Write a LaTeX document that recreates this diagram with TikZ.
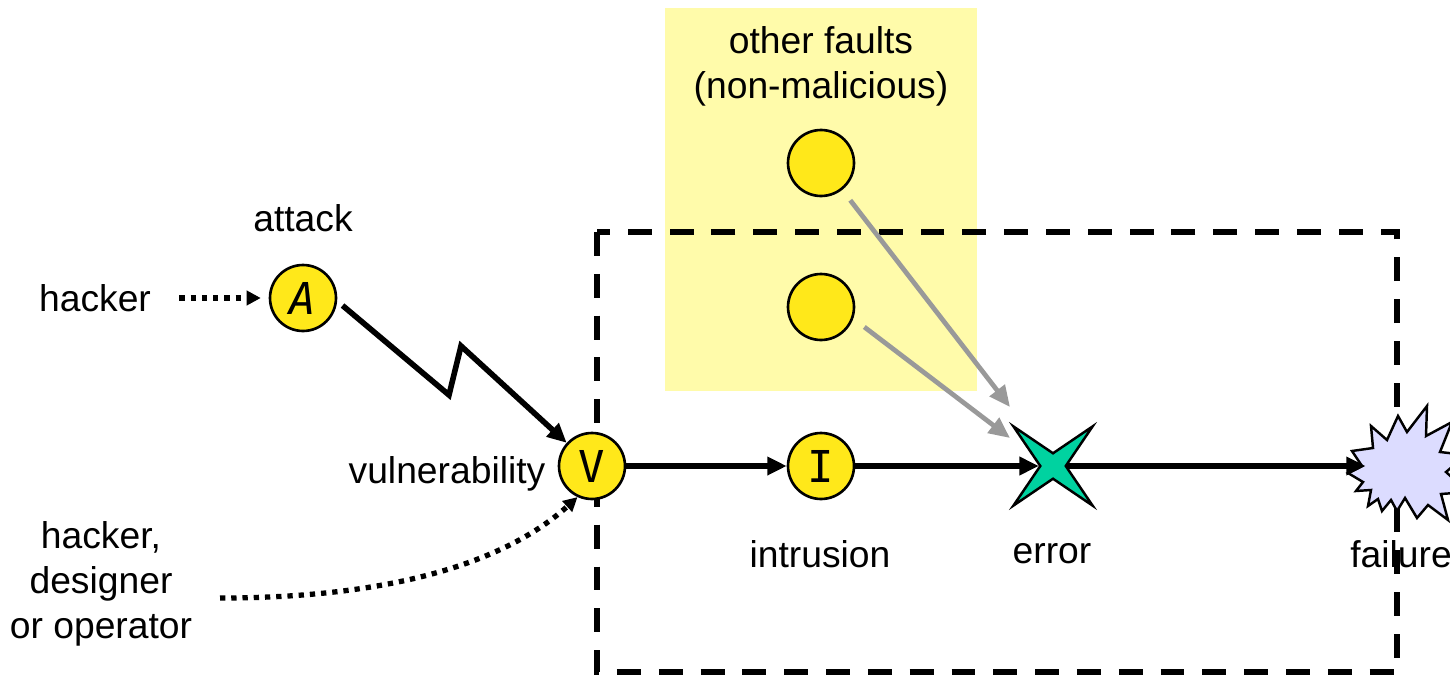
\documentclass[tikz,border=0pt]{standalone}
\usepackage{fontspec}
\setmainfont{Liberation Sans}
\newfontfamily\letterfont{DejaVu Sans Mono}
\usetikzlibrary{arrows.meta,shapes.geometric}
\definecolor{bgyellow}{HTML}{FFFBAA}
\definecolor{circyellow}{HTML}{FFE81A}
\definecolor{errgreen}{HTML}{00D2A0}
\definecolor{faillav}{HTML}{DCDCFF}
\definecolor{arrowgray}{HTML}{999999}
\begin{document}
\begin{tikzpicture}[x=0.02cm,y=-0.02cm,
  txt/.style={font=\fontsize{21.2}{25.5}\selectfont, align=center, inner sep=0},
  fault/.style={circle, draw=black, line width=1.5pt, fill=circyellow, minimum size=1.32cm, inner sep=0, font=\letterfont\fontsize{25}{25}\selectfont},
  flow/.style={line width=3.2pt, -{Triangle[length=11pt,width=10pt]}},
  grayflow/.style={draw=arrowgray, line width=2.7pt, -{Triangle[length=12pt,width=10.5pt]}},
  dotflow/.style={line width=3pt, dash pattern=on 3pt off 3.4pt, -{Triangle[length=8pt,width=8pt]}},
  boxline/.style={line width=3.4pt, dash pattern=on 13.6pt off 10.2pt},
]
\useasboundingbox (0,0) rectangle (1450,679);
% background of other faults
\fill[bgyellow] (665,8) rectangle (977,391);
% dashed boundary
\draw[boxline] (597,232) rectangle (1397,672);

% labels
\node[txt] (tof) at (821,66) {other faults\\(non-malicious)};
\node[txt] (tatt) at (303,218) {attack};
\node[txt] (th1) at (95,298) {hacker};
\node[txt] (tvul) at (447,474) {vulnerability};
\node[txt] (th2) at (101,584) {hacker,\\designer\\or operator};
\node[txt] (tint) at (820,554) {intrusion};
\node[txt] (terr) at (1052,554) {error};
\node[txt] (tfail) at (1401,554) {failure};

% failure burst
\filldraw[fill=faillav, draw=black, line width=1.4pt, line join=miter]
  (1398,416) -- (1407,432) -- (1427,406) -- (1426,436) -- (1452,422) -- (1440,452)
  -- (1466,455) -- (1446,472) -- (1468,492) -- (1441,494) -- (1448,520) -- (1428,505)
  -- (1417,518) -- (1405,498) -- (1397,511) -- (1391,500) -- (1382,511) -- (1378,499)
  -- (1368,506) -- (1371,490) -- (1356,491) -- (1363,482) -- (1348,473) -- (1362,466)
  -- (1352,451) -- (1373,448) -- (1371,426) -- (1387,440) -- cycle;
\node[circle, minimum size=1.44cm, inner sep=0] (Fail) at (1402,466) {};

% error star
\node[star, star points=4, star point ratio=4.4, shape border rotate=45, minimum size=2.24cm,
  inner sep=0, fill=errgreen, draw=black, line width=1.4pt, line join=miter] (E) at (1053,466) {};

% fault circles
\node[fault] (A) at (303,298) {\itshape A};
\node[fault] (V) at (592,466) {V};
\node[fault] (I) at (821,466) {I};
\node[fault] (F1) at (821,163) {};
\node[fault] (F2) at (821,307) {};

\coordinate (e1) at (1010,407);
\coordinate (e2) at (1010,438);
\coordinate (hd) at (220,598);

% connectors
\draw[dotflow, shorten <=16pt, shorten >=4.5pt] (th1.east) -- (A);
\draw[flow, line join=miter, shorten <=4pt] (A.-5) -- (449,395) -- (461,346) -- (V);
\draw[dotflow] (hd) .. controls (430,598) and (525,545) .. (V.245);
\draw[flow] (V) -- (I);
\draw[flow] (I) -- (E);
\draw[flow] (E) -- (Fail);
\draw[grayflow] ([shift={(5,13)}]F1.south east) -- (e1);
\draw[grayflow] ([shift={(9,20)}]F2.east) -- (e2);
\end{tikzpicture}
\end{document}
